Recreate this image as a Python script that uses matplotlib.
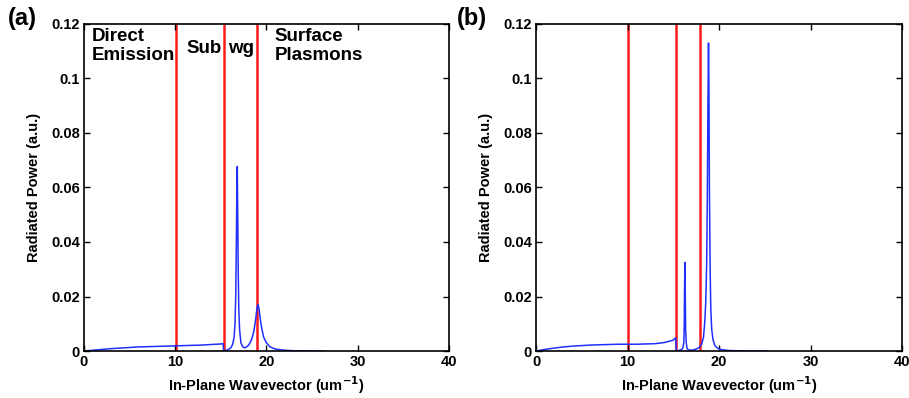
import matplotlib
matplotlib.use('Agg')
import matplotlib.pyplot as plt

plt.rcParams['font.family'] = ['Liberation Sans', 'DejaVu Sans']
plt.rcParams['font.weight'] = 'bold'
plt.rcParams['mathtext.default'] = 'bf'

# panel (a) spectrum
xa = [0, 1, 2, 3, 4, 5, 6, 7, 8, 9, 10, 11, 12, 13, 14, 15, 15.25, 15.3,
      15.5, 15.8, 16.1, 16.3, 16.45, 16.55, 16.63, 16.7, 16.75, 16.8, 16.85,
      16.9, 16.97, 17.05, 17.2, 17.4, 17.6, 17.8, 18.0, 18.2, 18.4, 18.6,
      18.75, 18.9, 19.0, 19.1, 19.2, 19.35, 19.5, 19.7, 20.0, 20.4, 21, 22,
      23, 24, 25, 26.2]
ya = [0, 0.0003, 0.0006, 0.0009, 0.0011, 0.0013, 0.0015, 0.0016, 0.0017,
      0.0018, 0.0019, 0.0020, 0.0021, 0.0022, 0.0024, 0.0026, 0.0027, 0.0001,
      0.0002, 0.0005, 0.0012, 0.0025, 0.005, 0.010, 0.020, 0.040, 0.058,
      0.0677, 0.050, 0.030, 0.015, 0.008, 0.003, 0.0015, 0.0012, 0.0015,
      0.002, 0.003, 0.0045, 0.007, 0.010, 0.014, 0.0165, 0.0169, 0.015,
      0.011, 0.008, 0.005, 0.003, 0.0015, 0.0007, 0.0003, 0.0001, 0.00005,
      0, 0]

# panel (b) spectrum
xb = [0, 1, 2, 3, 4, 5, 6, 7, 8, 9, 10, 11, 12, 13, 14, 15, 15.15, 15.28,
      15.32, 15.6, 15.9, 16.05, 16.15, 16.2, 16.23, 16.27, 16.31, 16.35,
      16.42, 16.5, 16.65, 17.0, 17.4, 17.8, 18.1, 18.3, 18.45, 18.55, 18.65,
      18.72, 18.79, 18.85, 18.9, 18.95, 19.03, 19.1, 19.2, 19.35, 19.55,
      19.85, 20.3, 21, 22, 23, 24, 25.4]
yb = [0, 0.0006, 0.0011, 0.0015, 0.0018, 0.0020, 0.0022, 0.0023, 0.0024,
      0.0025, 0.0025, 0.0025, 0.0026, 0.0027, 0.0031, 0.0040, 0.0046,
      0.0048, 0.0001, 0.0002, 0.0005, 0.0012, 0.003, 0.010, 0.022, 0.0325,
      0.022, 0.008, 0.003, 0.001, 0.0004, 0.0003, 0.0006, 0.0012, 0.0025,
      0.005, 0.011, 0.018, 0.032, 0.055, 0.09, 0.113, 0.095, 0.06, 0.03,
      0.016, 0.008, 0.004, 0.002, 0.001, 0.0005, 0.0002, 0.0001, 0, 0, 0]

lines_a = [10.1, 15.3, 18.95]
lines_b = [10.05, 15.3, 17.95]

xticks = [0, 10, 20, 30, 40]
yticks = [0, 0.02, 0.04, 0.06, 0.08, 0.1, 0.12]
ytick_labels = ['0', '0.02', '0.04', '0.06', '0.08', '0.1', '0.12']

fig = plt.figure(figsize=(9.09, 3.98), dpi=100)
ax1 = fig.add_axes([0.0924, 0.118, 0.4015, 0.822])
ax2 = fig.add_axes([0.5897, 0.118, 0.4026, 0.822])

for ax, x, y, vl in [(ax1, xa, ya, lines_a), (ax2, xb, yb, lines_b)]:
    for v in vl:
        ax.axvline(v, color='#ff1a1a', lw=1.8, zorder=1)
    ax.plot(x, y, color='#1f2fff', lw=1.1, zorder=2)
    ax.set_xlim(0, 40)
    ax.set_ylim(0, 0.12)
    ax.set_xticks(xticks)
    ax.set_yticks(yticks)
    ax.set_yticklabels(ytick_labels)
    ax.tick_params(direction='in', top=True, right=True, length=4,
                   labelsize=10.5, width=1, pad=3)
    for s in ax.spines.values():
        s.set_linewidth(1.2)
    ax.set_xlabel(r'In-Plane Wavevector (um$^{-1}$)', fontsize=10.5,
                  fontweight='bold', labelpad=4)
    ax.set_ylabel('Radiated Power (a.u.)', fontsize=10.5, fontweight='bold',
                  labelpad=7)

ax1.text(0.9, 0.1185, 'Direct\nEmission', fontsize=13.5, fontweight='bold',
         va='top', ha='left', linespacing=1.15)
ax1.text(11.2, 0.1108, 'Sub', fontsize=13.5, fontweight='bold', va='center')
ax1.text(15.8, 0.1108, 'wg', fontsize=13.5, fontweight='bold', va='center')
ax1.text(20.9, 0.1185, 'Surface\nPlasmons', fontsize=13.5, fontweight='bold',
         va='top', ha='left', linespacing=1.15)

fig.text(0.009, 0.982, '(a)', fontsize=17, fontweight='bold', va='top')
fig.text(0.503, 0.982, '(b)', fontsize=17, fontweight='bold', va='top')

fig.savefig('out.png', dpi=100)
